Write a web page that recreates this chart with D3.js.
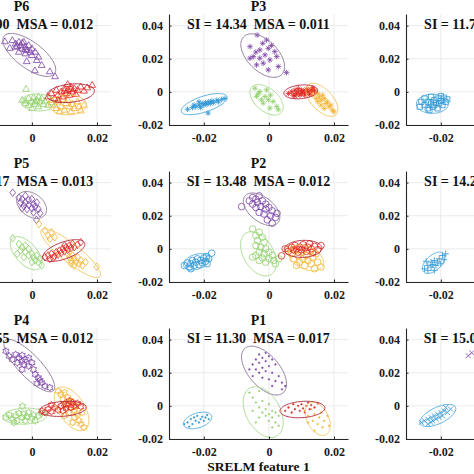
<!DOCTYPE html>
<html><head><meta charset="utf-8">
<script src="https://cdn.jsdelivr.net/npm/d3@7"></script>
<style>body{margin:0;background:#fff}svg{display:block}</style>
</head><body>
<script>
// ---------- DATA (feature values in units of 1e-3) ----------
const clusterColors = ["#2c96d4", "#7d45a8", "#8fd16b", "#e0261f", "#f5b32e"]; // blue, purple, green, red, orange
const ellipseColors = ["#4aa8dc", "#8a7396", "#a6d98a", "#b0203a", "#f2c35a"];
const panelIds = ["P6", "P3", "P9", "P5", "P2", "P8", "P4", "P1", "P7"];
const siLabels = ["SI = 12.90", "SI = 14.34", "SI = 11.75", "SI = 13.17", "SI = 13.48", "SI = 14.21", "SI = 12.55", "SI = 11.30", "SI = 15.02"];
const msaLabels = ["MSA = 0.012", "MSA = 0.011", "MSA = 0.010", "MSA = 0.013", "MSA = 0.012", "MSA = 0.011", "MSA = 0.012", "MSA = 0.017", "MSA = 0.009"];
const markerTypes = ["triangle", "asterisk", "square", "diamond", "circle", "plus", "hexagram", "dot", "cross"];
const xTicks = [-0.02, 0, 0.02];
const yTicks = [-0.02, 0, 0.02, 0.04];
const xLabel = "SRELM feature 1";

// P6
const p6Purple = [-8.3,30.3, -6.8,26.3, -6,31, -5,29, -4,30, -3.5,28, -2.5,30, -3,26, -2,27, -1,28, -1.5,25, 0,26, -4,24, -2,23, 0,22, 1,24, -1.6,18.3, 1.5,19, 0.9,12.8, 3,16, 5.5,12.2, 7.1,9.2, -5,27, 2,21, -3,29.5, -0.5,24, -4.5,27.5, -2,25.5];
const p6Green = [-3,-5, -2,-7, -1,-4, -1,-8, 0,-6, 0.5,-3.5, 1,-7.5, 1.5,-5, 2,-9, 2.5,-6, 3,-4, 3.5,-7.5, 4,-5.5, 5,-8, 6,-6.5, -1.8,1.6, 0,-10, 2,-3, -2,-5.5, 1,-6];
const p6Red = [5,-3, 6,-1, 7,-4, 7.5,1, 8,-2, 9,0, 9.5,-3, 10,2, 10.5,-1, 11,1, 11.5,-2, 12,3, 12.5,0, 13,2, 13.5,-1.5, 14,1, 15,3, 16,0.5, 17,2.5, 18.5,4, 8,-5, 11,4.5, 12,1.5, 10,0.5];
const p6Orange = [6,-5, 7,-8, 7.5,-10, 8,-6, 9,-9, 9.5,-4.5, 10,-11, 10.5,-7, 11,-5, 11.5,-9, 12,-12, 12.5,-7.5, 13,-10, 14,-6, 14.5,-9, 15,-11.5, 16,-8, 8.5,-12];
const p6Ell = [[1,-0.8,22.3,7.75,-11.3,0.42],[2,1.9,-6.4,5.2,-0.5,0.5],[4,11,-7.8,5.8,0,0.53],[3,11.9,-0.8,7.3,1.5,0.38]];

// P3
const p3Blue = [-25,-10.5, -23.5,-9.5, -22.5,-9, -21.5,-8, -21,-9.5, -20.5,-7, -20,-8, -19.5,-6.5, -19,-7.5, -18.5,-6, -18,-7, -17.5,-5.5, -17,-6.5, -16,-5, -15.5,-6, -14.5,-4.5, -13.5,-4, -21.5,-6, -18.7,-12.8, -23,-8];
const p3Purple = [-3.6,34.3, -0.7,31.3, -5.8,27.3, -2.8,25.3, -0.2,26.3, 1.8,24.3, -4.8,21.3, -2.8,20.3, -1.2,22.3, 0.3,19.3, 2.4,21.3, -3.8,16.3, -1.75,17.3, 2.9,15.3, 5.4,11.6, -5.8,20.3, -1.9,29.3, -0.2,13.3, 0.8,28, -4,24];
const p3Green = [-4.3,2.2, -2.8,0.2, -1.2,-2.8, -3.8,-2.8, -0.2,-4.8, 1.3,-5.8, -1.75,-6.8, 2.4,-8.8, 0.3,-9.8, -0.7,1.2, -2.3,-4.8, 2.9,-10.8, -3.3,-1.2, 0.5,-2];
const p3Red = [6,-1, 7,0, 7.5,-2, 8,1, 8.5,-1, 9,0, 9.5,-2, 10,1, 10,-1, 10.5,0.5, 11,-0.5, 11.5,1.5, 12,0, 12.5,-1.5, 13,1, 13.5,2.5, 8,-2.5, 11,-2, 9,2, 14,0.5];
const p3Orange = [12,2, 13,0, 13.5,-2, 14,1, 15,-1, 15.5,-3, 16,-5, 16.5,-2, 17,-4, 17.5,-7, 18,-6, 18.5,-9, 19,-8, 19.5,-11, 16,-8, 14.5,-4, 20,-12, 17,-10, 15,-6];
const p3Ell = [[0,-19.9,-7.4,7.0,4.5,0.33],[1,-1.9,21.9,5.85,-11.4,0.57],[2,-0.7,-4.8,4.6,-7.6,0.58],[4,16.3,-4.8,4.3,-9.0,0.52],[3,9.8,0,5.2,1.0,0.4]];

// P9 (right column, top)
const q1Blue = [-26,-6, -25,-8, -25,-4, -24,-6, -24,-10, -23,-7, -23,-3, -22.5,-9, -22,-5, -22,-8, -21.5,-6.5, -21,-4, -21,-10, -20.5,-7, -20,-5.5, -19.5,-8, -19,-3.5, -18.5,-6, -18,-4.5, -23.5,-11, -26.5,-9, -20,-2.5];
const q1Ell = [[0,-22.6,-7.2,4.9,0,0.6]];

// P5
const p5Purple = [-4,31, -3,30, -2,32, -3.5,28, -2,28, -1,29.5, 0,30, -2.5,26, -1,26.5, 0.5,27, 1.5,28, -1.5,24, 0,24.5, 1,25.5, 2,24, 0.5,22, 2.5,21.5, -5.9,33.9, 1.4,17.5, -3,24.5];
const p5Green = [-5.9,6.4, -4,3, -3,1, -2,2, -3.5,-1, -2,-2, -1,0, -1,-4, 0,-3, 0.5,-5, -2.5,-5, 1,-7, 2,-8, 0,-8, 1.5,-4, 3,-10, -4.5,-3, 2.5,-6];
const p5Red = [4,-5, 5,-4, 5.5,-6, 6,-3, 7,-4.5, 7.5,-2, 8,-3.5, 8.5,-1, 9,-2.5, 9.5,0, 10,-1.5, 10.5,1, 11,-0.5, 11.5,2, 12,0.5, 12.5,3, 13,1, 14,2.5, 15,4, 6.5,-5.5, 10,2];
const p5Orange = [4,11, 5,8, 6,10, 7,7, 5.5,6, 2.2,15, 11,-3, 11.5,-5, 12,-7, 12.5,-4, 13,-6, 13.5,-8, 14,-5, 14.5,-9, 15,-7, 15.5,-10, 13,-10, 16.5,-8, 19.9,-10.8, 12,-9];
const p5Ell = [[1,-0.1,26.5,4.1,-6.0,0.68],[2,-1.8,-2.6,4.2,-9.0,0.53],[4,11.9,-2.6,9.0,-14.0,0.25],[3,9.8,-1.0,6.4,4.5,0.38]];

// P2
const p2Blue = [-26,-10, -25,-8.5, -24.5,-11, -24,-9, -23.5,-7, -23,-10, -22.5,-8, -22,-6, -21.5,-9.5, -21,-7, -20.5,-8.5, -20,-5.5, -19.5,-7.5, -19,-9, -18.5,-6, -17.6,-2.6, -19.2,-4.6, -24,-12];
const p2Purple = [-6,29, -5,31, -4,30, -3,32, -5,27, -3.5,28, -2,29, -1,27, -4,25, -2.5,25.5, -1,24, 0,25, 1,23, -3,22, -1.5,21, 0.5,20, 2,19, -0.5,17.5, 1,15.5, -8.4,25.5, 2.5,21.5];
const p2Green = [-5,12, -3,10, -4,8, -2,7, -3.5,5, -1.5,4, -4,2, -2.5,1, -1,0, -3,-2, -1.5,-3, 0,-2, -4,-4, -2,-5.5, 0,-6, 1,-4, -3,-7, -1,-8, 1.5,-7, 3,-6, -5,-5, 2,-9];
const p2Red = [5,0, 6,-1.5, 7,1, 7.5,-0.5, 8,2, 8.5,0, 9,-2, 9.5,1, 10,-0.5, 10.5,2.5, 11,0.5, 11.5,-1.5, 12,1, 12.5,3, 13,0, 13.5,-2, 14,1.5, 15,-0.5, 3.9,-4.2, 16,2];
const p2Orange = [6,0, 7,-3, 7.5,-6, 8,-1, 9,-4, 9.5,-8, 10,-2, 10.5,-6, 11,-10, 11.5,-4, 12,-7, 12.5,-1, 13,-9, 13.5,-5, 14,-12, 15,-8, 16,-11, 8.5,-10, 14.5,-3];
const p2Ell = [[0,-22.2,-7.8,4.0,2.4,0.55],[1,-2.25,23.9,5.1,-8.0,0.57],[2,-3.2,-3.0,3.85,-12.5,0.62],[4,11.4,-5.4,5.2,-4.8,0.6],[3,10.5,0,5.8,0.5,0.45]];

// P8 (right column, middle)
const q2Blue = [-25,-12, -24,-13, -24,-10, -23,-11, -23,-8, -22.5,-9.5, -22,-7, -21.5,-10, -21,-8, -20.5,-6, -20,-9, -19.5,-4, -19,-6.5, -18.5,-3, -22,-13, -24.5,-7.5];
const q2Ell = [[0,-22.2,-8.4,3.1,5.5,0.55]];

// P4
const p4Purple = [-7,30, -6,28, -5,31, -4,29, -3,30.5, -4.5,26, -3,27, -2,28, -1,29, -2.5,25, -1,24, 0,26, -3,22, 0.5,22, 1,19, 2,17, 3,14, 4,12, 5.5,11, 1.5,13.5, -8,33, 2.5,15.5];
const p4Green = [-8,-7, -7,-5.5, -6,-8, -5,-6, -4.5,-9, -4,-4.5, -3,-7, -2.5,-5, -2,-9, -1.5,-6.5, -1,-4, 0,-7.5, 0.5,-5.5, 1,-9, 2,-6, 3,-4.5, -2.9,-0.2, -5.5,-10];
const p4Red = [3,-3, 4,-4, 5,-2, 6,-3.5, 7,-1, 8,-2.5, 9,0, 9.5,-3, 10,1, 10.5,-1.5, 11,0.5, 12,-1, 12.5,2, 13,0, 14,1.5, 15,-0.5, 6,0.5, 11.5,3];
const p4Orange = [8,9, 9,7, 10,8, 9.5,4, 11,5, 12,3, 10.5,1, 12,-1, 13,-3, 11.5,-4, 14,-5, 13,-7, 14.5,-9, 15,-11, 12.5,-10, 16,-13, 13.5,0, 10,-6, 15.5,-4];
const p4Ell = [[1,-0.8,24.3,7.4,-15.1,0.32],[2,-2.2,-6.2,6.8,0.5,0.36],[4,12.2,-1.8,4.1,-12.5,0.53],[3,9.6,-1.8,7.1,1.0,0.32]];

// P1
const p1Blue = [-26,-11, -25,-10, -24,-8, -23.5,-11, -23,-7, -22.5,-9, -22,-6, -21.5,-10, -21,-8, -20.5,-6.5, -20,-9, -19.5,-7, -19,-5.5, -18.5,-8, -24.5,-12.5];
const p1Purple = [-3,31, -1,32, -4,28, -2,29, 0,30, -5,25, -3,26, -1,27, 1,28, -4,22, -2,23, 0,24, 2,25, -3,20, -1,21, 1,20, -5,18, -2,17, 0,16, 2,15, 4,14, 5,12, 1,12, 3,18, -6,22, 4,10];
const p1Green = [-6,8, -5,5, -3,9, -4,2, -2,3, 0,1, -3,-1, -1,-2, 1,-3, -5,-3, -2,-4, 0,-5, 2,-4, -1,-6, 1,-7, 3,-6, -3,-7, 0,-9, 2,-10, -4,-10, 1,-13, 3,-12];
const p1Red = [5,-3, 6,-1, 7,-4, 8,-2, 9,0, 9.5,-3, 10,1, 10.5,-1.5, 11,-4, 11.5,0, 12,2, 12.5,-2, 13,0.5, 14,-1, 15,1.5, 7.5,1];
const p1Orange = [11,-3, 12,-6, 13,-2, 13.5,-9, 14,-5, 15,-11, 15.5,-7, 16,-4, 16.5,-13, 17,-9, 18,-6, 18.5,-12, 14,-15, 12,-10];
const p1Ell = [[0,-21.9,-8.8,4.3,2.7,0.5],[1,-1.5,21.3,5.9,-13.4,0.53],[2,-1.75,-3.8,4.1,-14.5,0.62],[4,15,-7.8,2.5,-9.6,0.6],[3,10.3,-2.2,6.9,1.0,0.36]];

// P7 (right column, bottom)
const q3Blue = [-26,-10, -25,-9, -24,-8, -24,-11, -23,-7, -22.5,-9, -22,-6, -21.5,-8, -21,-5, -20.5,-7, -20,-4, -19.5,-6, -19,-3, -18,-4, -17,-2, -18.5,-1, -23,-10];
const q3Purple = [-11.6,30.3, -10.5,32, -8,28, -6,31, -4,27, -2,29];
const q3Ell = [[0,-20.9,-5.8,5.4,5.0,0.42]];

// ---------- panel table built from the arrays ----------
const panelClusters = [
  [[1,p6Purple],[2,p6Green],[4,p6Orange],[3,p6Red]],
  [[0,p3Blue],[1,p3Purple],[2,p3Green],[4,p3Orange],[3,p3Red]],
  [[0,q1Blue]],
  [[1,p5Purple],[2,p5Green],[4,p5Orange],[3,p5Red]],
  [[0,p2Blue],[1,p2Purple],[2,p2Green],[4,p2Orange],[3,p2Red]],
  [[0,q2Blue]],
  [[1,p4Purple],[2,p4Green],[4,p4Orange],[3,p4Red]],
  [[0,p1Blue],[1,p1Purple],[2,p1Green],[4,p1Orange],[3,p1Red]],
  [[0,q3Blue],[1,q3Purple]]
];
const panelEllipses = [p6Ell, p3Ell, q1Ell, p5Ell, p2Ell, q2Ell, p4Ell, p1Ell, q3Ell];

// ---------- LAYOUT ----------
const W = 474, H = 474;
const colLeft = [-68, 169, 406], rowBottom = [125, 282, 439];
const pw = 179, ph = 111;
const xDomain = [-0.0307, 0.0243], yDomain = [-0.02, 0.047];
const FONT = "'Liberation Serif','Times New Roman',serif";

const svg = d3.select("body").append("svg").attr("width", W).attr("height", H)
  .style("font-family", FONT);

function markerPath(type) {
  const p = d3.path();
  switch (type) {
    case "triangle": { const s = 3.8; p.moveTo(0,-s); p.lineTo(s*0.9,s*0.55); p.lineTo(-s*0.9,s*0.55); p.closePath(); break; }
    case "asterisk": { const s = 2.8, d = s*0.72; p.moveTo(-s,0); p.lineTo(s,0); p.moveTo(0,-s); p.lineTo(0,s); p.moveTo(-d,-d); p.lineTo(d,d); p.moveTo(-d,d); p.lineTo(d,-d); break; }
    case "square": { const s = 2.6; p.rect(-s,-s,2*s,2*s); break; }
    case "diamond": { const s = 3.8; p.moveTo(0,-s); p.lineTo(s*0.75,0); p.lineTo(0,s); p.lineTo(-s*0.75,0); p.closePath(); break; }
    case "circle": { p.arc(0,0,3.3,0,2*Math.PI); p.closePath(); break; }
    case "plus": { const s = 3.2; p.moveTo(-s,0); p.lineTo(s,0); p.moveTo(0,-s); p.lineTo(0,s); break; }
    case "hexagram": { const R = 3.6, r = R*0.58; for (let i = 0; i < 12; i++) { const a = -Math.PI/2 + i*Math.PI/6; const rr = i%2 ? r : R; const x = rr*Math.cos(a), y = rr*Math.sin(a); if (i===0) p.moveTo(x,y); else p.lineTo(x,y);} p.closePath(); break; }
    case "dot": { p.arc(0,0,0.9,0,2*Math.PI); p.closePath(); break; }
    case "cross": { const s = 2.5; p.moveTo(-s,-s); p.lineTo(s,s); p.moveTo(-s,s); p.lineTo(s,-s); break; }
  }
  return p.toString();
}

const tickFmt = d => d === 0 ? "0" : (d < 0 ? "-" : "") + Math.abs(d).toFixed(2);

for (let i = 0; i < 9; i++) {
  const r = Math.floor(i/3), c = i % 3;
  const left = colLeft[c], bottom = rowBottom[r], top = bottom - ph;
  const x = d3.scaleLinear().domain(xDomain).range([left, left + pw]);
  const y = d3.scaleLinear().domain(yDomain).range([bottom, top]);
  const g = svg.append("g");

  // grid
  g.append("g").selectAll("line").data(xTicks).join("line")
    .attr("x1", d => x(d)).attr("x2", d => x(d)).attr("y1", top).attr("y2", bottom)
    .attr("stroke", "#e3e3e3").attr("stroke-width", 0.7);
  g.append("g").selectAll("line").data(yTicks).join("line")
    .attr("x1", left).attr("x2", left + pw).attr("y1", d => y(d)).attr("y2", d => y(d))
    .attr("stroke", "#e3e3e3").attr("stroke-width", 0.7);

  // clip
  const cid = "clip" + i;
  svg.append("clipPath").attr("id", cid).append("rect")
    .attr("x", left).attr("y", top).attr("width", pw).attr("height", ph);
  const plot = g.append("g").attr("clip-path", `url(#${cid})`);

  // points
  const mtype = markerTypes[i];
  const mp = markerPath(mtype);
  panelClusters[i].forEach(([ci, arr]) => {
    const pts = d3.range(0, arr.length, 2).map(k => [arr[k]*1e-3, arr[k+1]*1e-3]);
    plot.append("g").selectAll("path").data(pts).join("path")
      .attr("d", mp)
      .attr("transform", d => `translate(${x(d[0])},${y(d[1])})`)
      .attr("fill", mtype === "dot" ? clusterColors[ci] : "none")
      .attr("stroke", clusterColors[ci])
      .attr("stroke-width", mtype === "dot" ? 0.3 : 0.8);
  });

  // ellipses
  const line = d3.line().curve(d3.curveLinearClosed);
  panelEllipses[i].forEach(([ci, cx, cy, ax, ay, ratio]) => {
    const X0 = x(cx*1e-3), Y0 = y(cy*1e-3);
    const ux = x((cx+ax)*1e-3) - X0, uy = y((cy+ay)*1e-3) - Y0;
    const vx = -uy*ratio, vy = ux*ratio;
    const pts = d3.range(0, 2*Math.PI, Math.PI/48).map(t =>
      [X0 + ux*Math.cos(t) + vx*Math.sin(t), Y0 + uy*Math.cos(t) + vy*Math.sin(t)]);
    plot.append("path").attr("d", line(pts)).attr("fill", "none")
      .attr("stroke", ellipseColors[ci]).attr("stroke-width", 0.9);
  });

  // axes
  const ax = g.append("g").attr("transform", `translate(0,${bottom})`)
    .call(d3.axisBottom(x).tickValues(xTicks).tickFormat(tickFmt).tickSizeInner(-2.5).tickSizeOuter(0).tickPadding(8));
  const ay = g.append("g").attr("transform", `translate(${left},0)`)
    .call(d3.axisLeft(y).tickValues(yTicks).tickFormat(tickFmt).tickSizeInner(-2.5).tickSizeOuter(0).tickPadding(6));
  [ax, ay].forEach(a => {
    a.select(".domain").attr("stroke", "#262626").attr("stroke-width", 1.1);
    a.selectAll(".tick line").attr("stroke", "#262626");
    a.selectAll("text").attr("font-family", FONT).attr("font-weight", "bold")
      .attr("font-size", 12).attr("fill", "#1a1a1a");
  });

  // titles
  const cxT = left + pw/2;
  g.append("text").attr("x", cxT).attr("y", top - 8).attr("dy", "0.35em")
    .attr("text-anchor", "middle").attr("font-weight", "bold").attr("font-size", 14)
    .attr("fill", "#111").text(panelIds[i]);
  g.append("text").attr("x", cxT).attr("y", top + 10).attr("dy", "0.35em")
    .attr("text-anchor", "middle").attr("font-weight", "bold").attr("font-size", 14)
    .attr("fill", "#111")
    .text(siLabels[i] + "\u00A0\u00A0" + msaLabels[i]);

  if (r === 2 && c === 1) {
    g.append("text").attr("x", cxT).attr("y", bottom + 27).attr("dy", "0.35em")
      .attr("text-anchor", "middle").attr("font-weight", "bold").attr("font-size", 13.5)
      .attr("fill", "#111").text(xLabel);
  }
}
</script>
</body></html>
